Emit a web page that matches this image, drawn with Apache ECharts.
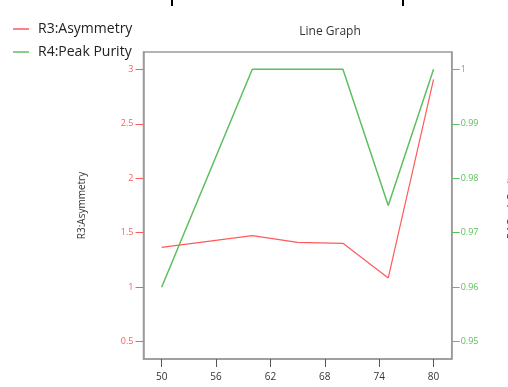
<!DOCTYPE html>
<html>
<head>
<meta charset="utf-8">
<script src="https://cdn.jsdelivr.net/npm/echarts@6/dist/echarts.min.js"></script>
<style>html,body{margin:0;padding:0;background:#fff}#c{width:508px;height:387px}</style>
</head>
<body>
<div id="c"></div>
<script>
var xValues = [50, 60, 65, 70, 75, 80];
var asymmetry = [1.366, 1.473, 1.412, 1.403, 1.085, 2.908];
var peakPurity = [0.960, 1.000, 1.000, 1.000, 0.975, 1.000];
var xTicks = [50, 56, 62, 68, 74, 80];
var leftTicks = [0.5, 1, 1.5, 2, 2.5, 3];
var rightTicks = [0.95, 0.96, 0.97, 0.98, 0.99, 1];

var RED = '#ff5a5a', GREEN = '#5cc05c';
function pairs(xs, ys){ return xs.map(function(x,i){ return [x, ys[i]]; }); }
function fmt(v){ return String(+(+v).toFixed(3)); }

var chart = echarts.init(document.getElementById('c'), null, {renderer:'canvas'});
chart.setOption({
  animation: false,
  backgroundColor: '#fff',
  textStyle: {fontFamily: '"Open Sans", "Noto Sans", sans-serif'},
  title: {
    text: 'Line Graph', left: 325, top: 21, textAlign: 'center',
    textStyle: {fontSize: 12, fontWeight: 'normal', color: '#333'}
  },
  legend: {
    orient: 'vertical', left: 8, top: 17, itemGap: 9,
    icon: 'rect', itemWidth: 16, itemHeight: 1.5,
    textStyle: {fontSize: 14, color: '#222', padding: [0, 0, 0, 4]},
    data: ['R3:Asymmetry', 'R4:Peak Purity']
  },
  grid: {
    left: 143.5, top: 52, right: 56.3, bottom: 28,
    show: true, borderColor: '#9a9a9a', borderWidth: 1.5,
    containLabel: false, outerBoundsMode: 'none'
  },
  graphic: [
    {type: 'rect', shape: {x: 171, y: 0, width: 2, height: 6}, style: {fill: '#000'}},
    {type: 'rect', shape: {x: 402, y: 0, width: 2, height: 6}, style: {fill: '#000'}}
  ],
  xAxis: {
    type: 'value', min: 48, max: 82,
    axisLine: {show: true, lineStyle: {color: '#9a9a9a', width: 1.5}},
    axisTick: {show: true, length: 8, customValues: xTicks, lineStyle: {color: '#555'}},
    axisLabel: {customValues: xTicks, color: '#333', fontSize: 10, margin: 13},
    splitLine: {show: false}
  },
  yAxis: [{
    type: 'value', position: 'left', min: 0.341, max: 3.159,
    name: 'R3:Asymmetry', nameLocation: 'middle', nameGap: 56, nameRotate: 90,
    nameTextStyle: {fontSize: 10, color: '#333'},
    axisLine: {show: true, lineStyle: {color: '#9a9a9a', width: 1.5}},
    axisTick: {show: true, length: 8, customValues: leftTicks, lineStyle: {color: RED}},
    axisLabel: {customValues: leftTicks, color: RED, fontSize: 9, margin: 10, formatter: fmt},
    splitLine: {show: false}
  }, {
    type: 'value', position: 'right', min: 0.94683, max: 1.00317,
    name: 'R4:Peak Purity', nameLocation: 'middle', nameGap: 55, nameRotate: 90,
    nameTextStyle: {fontSize: 10, color: '#333'},
    axisLine: {show: true, lineStyle: {color: '#9a9a9a', width: 1.5}},
    axisTick: {show: true, length: 8, customValues: rightTicks, lineStyle: {color: GREEN}},
    axisLabel: {customValues: rightTicks, color: GREEN, fontSize: 9, margin: 9, formatter: fmt},
    splitLine: {show: false}
  }],
  series: [{
    name: 'R3:Asymmetry', type: 'line', yAxisIndex: 0, showSymbol: false, symbol: 'none',
    data: pairs(xValues, asymmetry),
    itemStyle: {color: RED}, lineStyle: {color: RED, width: 1.2}
  }, {
    name: 'R4:Peak Purity', type: 'line', yAxisIndex: 1, showSymbol: false, symbol: 'none',
    data: pairs(xValues, peakPurity),
    itemStyle: {color: GREEN}, lineStyle: {color: GREEN, width: 1.5}
  }]
});
</script>
</body>
</html>
